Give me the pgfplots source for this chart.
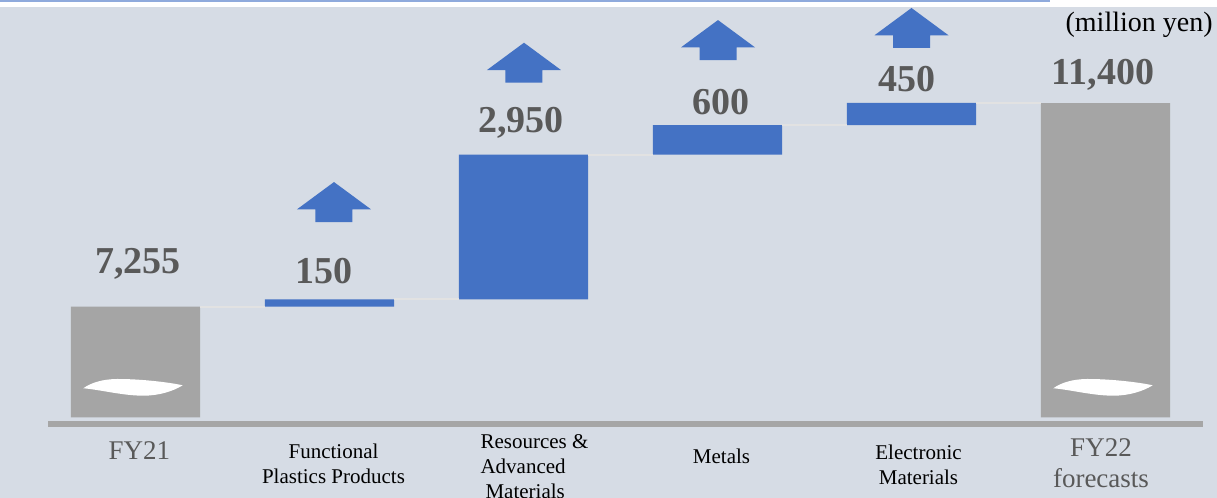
\documentclass[border=0pt]{standalone}
\usepackage{fontspec}
\setmainfont{Liberation Serif}
\usepackage{pgfplots}
\pgfplotsset{compat=1.18}
\usepackage{pgfplotstable}
\definecolor{bg}{RGB}{214,220,229}
\definecolor{barblue}{RGB}{68,114,196}
\definecolor{bargray}{RGB}{165,165,165}
\definecolor{axisgray}{RGB}{166,166,166}
\definecolor{conn}{RGB}{226,226,226}
\definecolor{valgray}{RGB}{89,89,89}
\definecolor{topline}{RGB}{143,170,220}

% waterfall: invisible base, gray totals (axis broken at 5000), blue increases
\pgfplotstableread{
x base  gray blue
0 5000  2255 0
1 7255  0    150
2 7405  0    2950
3 10355 0    600
4 10955 0    450
5 5000  6400 0
}\waterfall

\newcommand{\catfont}{\fontsize{10.5}{12.5}\selectfont}
\newcommand{\fyfont}{\fontsize{13.5}{15.5}\selectfont\color{valgray}}
\tikzset{vlab/.style={anchor=base, font=\fontsize{19}{22}\selectfont\bfseries, text=valgray, inner sep=0pt}}

\newcommand{\upmark}[3]{%
  \fill[barblue, shift={(#1)}, xshift=#2, yshift=#3]
    (-9.25pt,0pt) -- (9.25pt,0pt) -- (9.25pt,6.35pt) -- (18.5pt,6.35pt)
    -- (0pt,20pt) -- (-18.5pt,6.35pt) -- (-9.25pt,6.35pt) -- cycle;}
\newcommand{\wave}[1]{%
  \fill[white, shift={(#1)}]
    (6.15pt,0pt) .. controls (10pt,2.8pt) and (16pt,4.6pt) .. (23pt,4.65pt)
    .. controls (34pt,4.7pt) and (48pt,3.2pt) .. (55.85pt,1.5pt)
    .. controls (51pt,-1.5pt) and (44pt,-3.7pt) .. (36pt,-3.7pt)
    .. controls (26pt,-3.7pt) and (14pt,-0.6pt) .. (6.15pt,0pt) -- cycle;}

\begin{document}
\begin{tikzpicture}
\useasboundingbox (0,0) rectangle (608.5pt,-249pt);
\fill[bg] (0,0) rectangle (608.5pt,-249pt);
\fill[white] (0,0) rectangle (608.5pt,-3.35pt);
\fill[topline] (0,0) rectangle (525pt,-1.1pt);
\begin{axis}[
  at={(24pt,-212pt)}, anchor=south west,
  scale only axis, width=577.5pt, height=212pt,
  xmin=-0.451, xmax=5.5026, ymin=4865.6, ymax=13502.5,
  ybar stacked, bar width=0.665,
  axis x line*=bottom, axis y line=none,
  x axis line style={line width=2.8pt, draw=axisgray, -},
  xtick={0,1,2,3,4,5},
  xticklabels={
    {\fyfont\begin{tabular}[t]{@{}c@{}}FY21\end{tabular}},
    {\raisebox{0.5pt}{\catfont\begin{tabular}[t]{@{}c@{}}Functional\\Plastics Products\end{tabular}}},
    {\hspace*{3.5pt}\raisebox{5.5pt}{\catfont\begin{tabular}[t]{@{}l@{}}Resources \&\\Advanced\\\hspace*{2.5pt}Materials\end{tabular}}\hspace*{-3.5pt}},
    {\raisebox{-2pt}{\catfont\begin{tabular}[t]{@{}c@{}}Metals\end{tabular}}},
    {\hspace*{1.5pt}\catfont\begin{tabular}[t]{@{}c@{}}Electronic\\Materials\end{tabular}\hspace*{-1.5pt}},
    {\hspace*{-4.25pt}\raisebox{1.15pt}{\fyfont\begin{tabular}[t]{@{}c@{}}FY22\\forecasts\end{tabular}}\hspace*{4.25pt}},
  },
  xtick style={draw=none}, major tick length=0pt,
  ytick=\empty,
  xticklabel style={anchor=base, yshift=-17.5pt, xshift=2pt, inner sep=0pt},
  clip=false,
]
% connectors
\draw[conn, line width=1pt] (axis cs:0.3325,7255) -- (axis cs:0.6675,7255);
\draw[conn, line width=1pt] (axis cs:1.3325,7405) -- (axis cs:1.6675,7405);
\draw[conn, line width=1pt] (axis cs:2.3325,10355) -- (axis cs:2.6675,10355);
\draw[conn, line width=1pt] (axis cs:3.3325,10955) -- (axis cs:3.6675,10955);
\draw[conn, line width=1pt] (axis cs:4.3325,11405) -- (axis cs:4.6675,11405);
% bars
\addplot[draw=none, fill=none] table[x=x, y=base]{\waterfall};
\addplot[draw=none, fill=bargray] table[x=x, y=gray]{\waterfall};
\addplot[draw=none, fill=barblue] table[x=x, y=blue]{\waterfall};
% anchor points for the broken-axis marks
\coordinate (w1) at (axis cs:-0.3325,5593);
\coordinate (w2) at (axis cs:4.6675,5593);
% value labels
\node[vlab, xshift=1.25pt, yshift=16.85pt] at (axis cs:0,7255) {7,255};
\node[vlab, xshift=-2.75pt, yshift=8pt] at (axis cs:1,7405) {150};
\node[vlab, xshift=-1.25pt, yshift=10.9pt] at (axis cs:2,10355) {2,950};
\node[vlab, xshift=1.75pt, yshift=5.5pt] at (axis cs:3,10955) {600};
\node[vlab, xshift=-2.25pt, yshift=5.5pt] at (axis cs:4,11405) {450};
\node[vlab, xshift=-1.25pt, yshift=9.6pt] at (axis cs:5,11400) {11,400};
% arrows
\upmark{axis cs:1,7405}{2.25pt}{38.65pt}
\upmark{axis cs:2,10355}{0.25pt}{35.9pt}
\upmark{axis cs:3,10955}{0.25pt}{32.5pt}
\upmark{axis cs:4,11405}{0pt}{27.5pt}
\end{axis}
% broken-axis marks on the total bars
\wave{w1}
\wave{w2}
\node[anchor=base east, font=\fontsize{14}{16}\selectfont, inner sep=0pt] at (606.5pt,-16pt) {(million yen)};
\end{tikzpicture}
\end{document}
